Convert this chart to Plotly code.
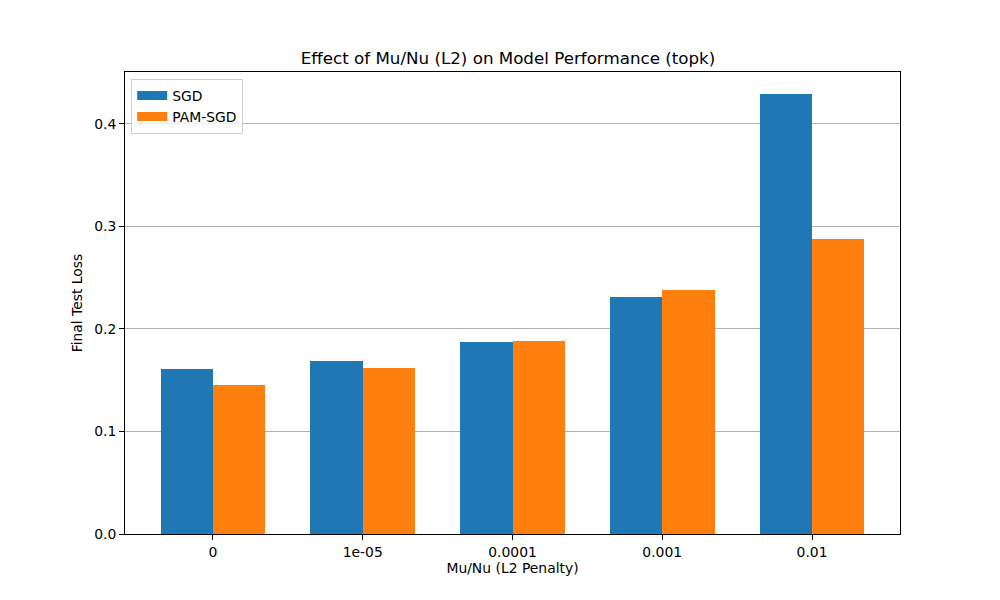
import plotly.graph_objects as go

categories = ["0", "1e-05", "0.0001", "0.001", "0.01"]
sgd = [0.161, 0.169, 0.187, 0.231, 0.429]
pam_sgd = [0.145, 0.162, 0.188, 0.238, 0.288]
y_ticks = [0.0, 0.1, 0.2, 0.3, 0.4]

width = 0.35
pos = list(range(len(categories)))
FS = 13.9

fig = go.Figure()
fig.add_trace(go.Bar(x=[p - width / 2 for p in pos], y=sgd, width=width, name="SGD",
                     marker=dict(color="#1f77b4", line=dict(width=0)), showlegend=False))
fig.add_trace(go.Bar(x=[p + width / 2 for p in pos], y=pam_sgd, width=width, name="PAM-SGD",
                     marker=dict(color="#ff7f0e", line=dict(width=0)), showlegend=False))
# legend entries with wide patches
fig.add_trace(go.Scatter(x=[None], y=[None], mode="lines", name="SGD",
                         line=dict(color="#1f77b4", width=9)))
fig.add_trace(go.Scatter(x=[None], y=[None], mode="lines", name="PAM-SGD",
                         line=dict(color="#ff7f0e", width=9)))

fig.update_layout(
    width=1000, height=600,
    paper_bgcolor="white", plot_bgcolor="white",
    margin=dict(l=117, r=108, t=64, b=74),
    font=dict(family="DejaVu Sans", size=FS, color="black"),
    title=dict(text="Effect of Mu/Nu (L2) on Model Performance (topk)", x=0.5, xanchor="center",
               y=1 - 50 / 600, yanchor="middle", font=dict(size=16.7)),
    barmode="overlay",
    bargap=0,
    showlegend=True,
    legend=dict(x=0.008, y=0.985, xanchor="left", yanchor="top", bgcolor="rgba(255,255,255,0.8)",
                bordercolor="#d0d0d0", borderwidth=1, font=dict(size=FS), tracegroupgap=0),
    xaxis=dict(range=[-0.5875, 4.5875], tickvals=pos, ticktext=categories,
               showgrid=False, zeroline=False, showline=True, linecolor="black", linewidth=1,
               mirror=True, ticks="outside", ticklen=5, tickcolor="black",
               tickfont=dict(size=FS),
               title=dict(text="Mu/Nu (L2 Penalty)", standoff=4, font=dict(size=FS))),
    yaxis=dict(range=[0, 0.4507], tickvals=y_ticks, ticktext=[f"{t:.1f}" for t in y_ticks],
               showgrid=True, gridcolor="#b0b0b0", gridwidth=1, zeroline=False,
               showline=True, linecolor="black", linewidth=1, mirror=True,
               ticks="outside", ticklen=5, tickcolor="black",
               tickfont=dict(size=FS),
               title=dict(text="Final Test Loss", standoff=8, font=dict(size=FS))),
)

fig.write_html("out.html")
